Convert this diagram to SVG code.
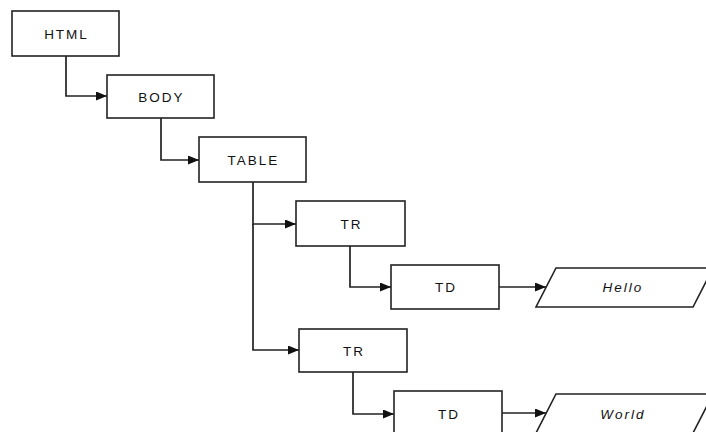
<svg xmlns="http://www.w3.org/2000/svg" width="706" height="432" viewBox="0 0 706 432">
<style>
.box{fill:#fff;stroke:#222;stroke-width:1.6}
.lbl{font-family:"Liberation Sans",Arial,sans-serif;font-size:13.5px;letter-spacing:2px;fill:#111;text-anchor:middle}
.it{font-style:italic}
.con{fill:none;stroke:#222;stroke-width:1.7}
</style>
<defs>
<marker id="arr" markerUnits="userSpaceOnUse" markerWidth="12" markerHeight="10" refX="11" refY="4.5" orient="auto">
<path d="M0,0 L11,4.5 L0,9 z" fill="#111"/>
</marker>
</defs>
<rect width="706" height="432" fill="#fff"/>
<g id="connectors">
<path class="con" d="M66,56 V96 H107" marker-end="url(#arr)"/>
<path class="con" d="M161,118 V160 H199" marker-end="url(#arr)"/>
<path class="con" d="M253,182 V224 H296" marker-end="url(#arr)"/>
<path class="con" d="M253,224 V350 H299" marker-end="url(#arr)"/>
<path class="con" d="M350,246 V287 H391" marker-end="url(#arr)"/>
<path class="con" d="M499,287 H546" marker-end="url(#arr)"/>
<path class="con" d="M353,372 V414 H394" marker-end="url(#arr)"/>
<path class="con" d="M502,413 H546" marker-end="url(#arr)"/>
</g>
<g id="html"><rect class="box" x="12" y="11" width="107" height="45"/><text class="lbl" x="66.5" y="38.5">HTML</text></g>
<g id="body"><rect class="box" x="107" y="75" width="107" height="43"/><text class="lbl" x="161.5" y="101.5">BODY</text></g>
<g id="table"><rect class="box" x="199" y="137" width="107" height="45"/><text class="lbl" x="253.5" y="164.5">TABLE</text></g>
<g id="tr1"><rect class="box" x="296" y="201" width="109" height="45"/><text class="lbl" x="351.5" y="228.5">TR</text></g>
<g id="td1"><rect class="box" x="391" y="265" width="108" height="44"/><text class="lbl" x="446" y="292">TD</text></g>
<g id="hello"><polygon class="box" points="556,268 713,268 693,307 536,307"/><text class="lbl it" x="623" y="292">Hello</text></g>
<g id="tr2"><rect class="box" x="299" y="329" width="108" height="43"/><text class="lbl" x="354" y="355.5">TR</text></g>
<g id="td2"><rect class="box" x="394" y="391" width="108" height="44"/><text class="lbl" x="449" y="418.5">TD</text></g>
<g id="world"><polygon class="box" points="556,394 713,394 693,433 536,433"/><text class="lbl it" x="623" y="418.5">World</text></g>
</svg>
